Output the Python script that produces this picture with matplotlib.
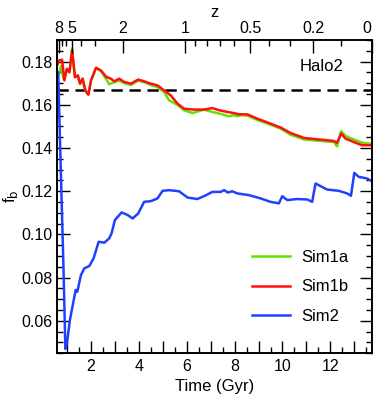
import numpy as np
import matplotlib
matplotlib.use('Agg')
import matplotlib.pyplot as plt
from matplotlib.ticker import MultipleLocator, FuncFormatter

plt.rcParams['font.family'] = ['Liberation Sans', 'DejaVu Sans']

# Sim2 (blue)
t_sim2 = [0.63, 0.75, 0.85, 0.93, 1.0, 1.12, 1.36, 1.43, 1.58, 1.72, 1.93, 2.11, 2.32, 2.56,
          2.76, 2.86, 3.0, 3.28, 3.53, 3.74, 3.97, 4.22, 4.5, 4.78, 4.99, 5.26, 5.68, 6.03,
          6.44, 6.72, 7.07, 7.42, 7.56, 7.72, 7.9, 8.11, 8.6, 9.08, 9.5, 9.85, 9.99, 10.2,
          10.61, 11.03, 11.24, 11.38, 11.86, 12.35, 12.7, 12.86, 13.0, 13.18, 13.53, 13.72]
fb_sim2 = [0.175, 0.125, 0.085, 0.047, 0.050, 0.0605, 0.0743, 0.0735, 0.0812, 0.0843, 0.0854,
           0.0890, 0.0966, 0.0962, 0.0982, 0.1005, 0.1067, 0.1102, 0.1090, 0.1074, 0.1097,
           0.1151, 0.1154, 0.1167, 0.1202, 0.1205, 0.1200, 0.1171, 0.1164, 0.1177, 0.1197,
           0.1197, 0.1205, 0.1194, 0.1200, 0.1190, 0.1182, 0.1167, 0.1151, 0.1144, 0.1177,
           0.1159, 0.1164, 0.1162, 0.1151, 0.1236, 0.1208, 0.1202, 0.1190, 0.1179, 0.1285,
           0.1267, 0.1259, 0.1248]

# Sim1b (red)
t_sim1b = [0.62, 0.68, 0.79, 0.89, 0.99, 1.10, 1.21, 1.33, 1.45, 1.54, 1.65, 1.76, 1.89, 2.0,
           2.21, 2.42, 2.63, 2.83, 2.97, 3.18, 3.39, 3.67, 3.97, 4.22, 4.5, 4.78, 5.05, 5.33,
           5.61, 5.89, 6.31, 6.72, 7.07, 7.35, 7.7, 7.97, 8.18, 8.53, 8.95, 9.5, 9.92, 10.33,
           10.89, 11.58, 12.14, 12.28, 12.45, 12.63, 12.97, 13.32, 13.74]
fb_sim1b = [0.1790, 0.1806, 0.1809, 0.1713, 0.1767, 0.1752, 0.1852, 0.1728, 0.1736, 0.1698,
            0.1721, 0.1667, 0.1647, 0.1713, 0.1772, 0.1759, 0.1730, 0.1721, 0.1709, 0.1721,
            0.1706, 0.1698, 0.1717, 0.1709, 0.1698, 0.1690, 0.1667, 0.1644, 0.1606, 0.1582,
            0.1578, 0.1578, 0.1585, 0.1575, 0.1567, 0.1562, 0.1556, 0.1556, 0.1536, 0.1513,
            0.1495, 0.1470, 0.1447, 0.1439, 0.1433, 0.1424, 0.1467, 0.1444, 0.1428, 0.1413,
            0.1413]

# Sim1a (green)
t_sim1a = [0.62, 0.68, 0.75, 0.85, 0.99, 1.10, 1.21, 1.33, 1.45, 1.54, 1.65, 1.76, 1.89, 2.0,
           2.21, 2.42, 2.63, 2.76, 2.97, 3.18, 3.39, 3.67, 3.97, 4.22, 4.5, 4.78, 5.05, 5.26,
           5.61, 5.89, 6.24, 6.72, 7.07, 7.35, 7.76, 7.97, 8.11, 8.3, 8.53, 8.95, 9.5, 9.92,
           10.33, 10.89, 11.58, 12.14, 12.28, 12.45, 12.63, 12.97, 13.32, 13.74]
fb_sim1a = [0.1736, 0.1750, 0.1780, 0.1720, 0.1760, 0.1750, 0.1860, 0.1728, 0.1736, 0.1698,
            0.1721, 0.1667, 0.1647, 0.1710, 0.1770, 0.1755, 0.1720, 0.1695, 0.1705, 0.1712,
            0.1700, 0.1692, 0.1712, 0.1705, 0.1692, 0.1682, 0.1660, 0.1621, 0.1600, 0.1575,
            0.1562, 0.1578, 0.1567, 0.1560, 0.1547, 0.1552, 0.1547, 0.1553, 0.1550, 0.1530,
            0.1508, 0.1490, 0.1462, 0.1440, 0.1433, 0.1428, 0.1408, 0.1478, 0.1456, 0.1440,
            0.1425, 0.1418]

fb_cosmic = 0.1667

z_major = [8, 5, 2, 1, 0.5, 0.2, 0]
z_labels = ['8', '5', '2', '1', '0.5', '0.2', '0']
z_minor = [7, 6, 4, 3, 0.9, 0.8, 0.7, 0.6, 0.4, 0.3, 0.1]


def age(z, om=0.28, h=0.7):
    # flat LCDM cosmic time in Gyr
    ol = 1.0 - om
    th = 977.8 / (100 * h)
    return 2.0 * th / (3.0 * np.sqrt(ol)) * np.arcsinh(np.sqrt(ol / om) * (1 + np.asarray(z, float)) ** -1.5)


fig = plt.figure(figsize=(3.74, 4.01), dpi=100)
ax = fig.add_axes([0.1524, 0.119, 0.8423, 0.7812])

ax.axhline(fb_cosmic, color='black', lw=1.8, ls=(0, (4.5, 2.7)))
ax.plot(t_sim1a, fb_sim1a, color='#66e000', lw=1.8, label='Sim1a')
ax.plot(t_sim1b, fb_sim1b, color='#ff1010', lw=1.8, label='Sim1b')
ax.plot(t_sim2, fb_sim2, color='#2040ff', lw=1.8, label='Sim2')

ax.set_xlim(0.58, 13.74)
ax.set_ylim(0.045, 0.19)

ax.xaxis.set_major_locator(MultipleLocator(1))
ax.xaxis.set_minor_locator(MultipleLocator(0.5))
ax.xaxis.set_major_formatter(FuncFormatter(lambda v, p: '%d' % v if int(round(v)) % 2 == 0 else ''))
ax.yaxis.set_major_locator(MultipleLocator(0.02))
ax.yaxis.set_minor_locator(MultipleLocator(0.005))
ax.yaxis.set_major_formatter(FuncFormatter(lambda v, p: '%.2f' % v))
ax.tick_params(which='both', direction='in', right=True, top=False, labelsize=11.5, width=1)
ax.tick_params(which='major', length=9)
ax.tick_params(which='minor', length=4.5)
ax.tick_params(axis='y', pad=3)
ax.tick_params(axis='x', pad=4)

ax.set_xlabel('Time (Gyr)', fontsize=12, labelpad=4)
ax.set_ylabel(r'f$_{\rm b}$', fontsize=12, labelpad=1)

top = ax.twiny()
top.set_xlim(ax.get_xlim())
top.set_xticks(age(z_major))
top.set_xticklabels(z_labels)
top.set_xticks(age(z_minor), minor=True)
top.tick_params(which='both', direction='in', labelsize=11.5, width=1, pad=3)
top.tick_params(which='major', length=9)
top.tick_params(which='minor', length=4.5)
top.set_xlabel('z', fontsize=12, labelpad=3)
top.get_xticklabels()[-1].set_horizontalalignment('right')

for a in (ax, top):
    for s in a.spines.values():
        s.set_linewidth(1.2)

ax.text(0.908, 0.915, 'Halo2', transform=ax.transAxes, ha='right', va='center', fontsize=12)
ax.legend(loc='center left', bbox_to_anchor=(0.618, 0.212), frameon=False, fontsize=12,
          handlelength=2.3, labelspacing=0.85, handletextpad=0.7, borderpad=0, borderaxespad=0)

fig.savefig('out.png', dpi=100)
